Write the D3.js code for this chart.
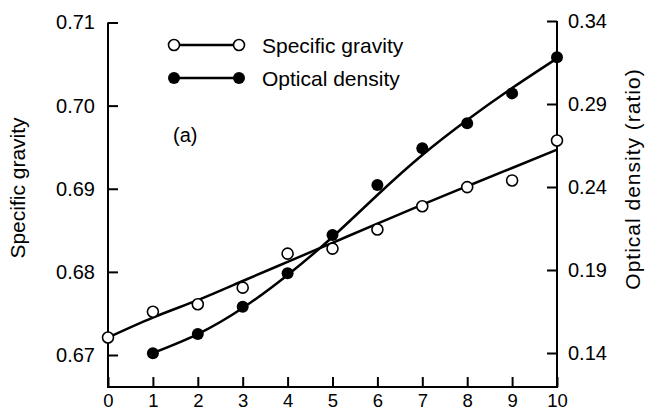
<!DOCTYPE html>
<html>
<head>
<meta charset="utf-8">
<script src="https://cdn.jsdelivr.net/npm/d3@7"></script>
<style>
  body { margin: 0; background: #fff; }
  svg { display: block; font-family: "Liberation Sans", Arial, sans-serif; }
  .axis text { font-size: 20px; fill: #000; }
  .axis line { stroke: #000; stroke-width: 2; }
</style>
</head>
<body>
<div id="chart"></div>
<script>
// days on the x axis
const days = [0, 1, 2, 3, 4, 5, 6, 7, 8, 9, 10];
// specific gravity, measured points and the fitted line
const sgObserved = [0.6721, 0.6752, 0.6761, 0.6781, 0.6822, 0.6828, 0.6851, 0.6879, 0.6902, 0.6910, 0.6958];
const sgFitted = [0.6721, 0.6745, 0.6766, 0.6789, 0.6812, 0.6835, 0.6858, 0.6881, 0.6903, 0.6925, 0.6947];
// optical density starts on day 1
const odDays = [1, 2, 3, 4, 5, 6, 7, 8, 9, 10];
const odObserved = [0.1398, 0.1514, 0.1679, 0.1880, 0.2111, 0.2412, 0.2633, 0.2784, 0.2964, 0.3181];
const odFitted = [0.1400, 0.1514, 0.1671, 0.1870, 0.2099, 0.2352, 0.2593, 0.2804, 0.2996, 0.3175];
// tick labels
const xTicks = [0, 1, 2, 3, 4, 5, 6, 7, 8, 9, 10];
const leftTicks = [0.67, 0.68, 0.69, 0.70, 0.71];
const rightTicks = [0.14, 0.19, 0.24, 0.29, 0.34];

const width = 646, height = 411;
const svg = d3.select('#chart').append('svg')
  .attr('width', width)
  .attr('height', height);

// scales
const x = d3.scaleLinear().domain([0, 10]).range([108, 557]);
const yL = d3.scaleLinear().domain([0.67, 0.71]).range([355, 22.5]);
const yR = d3.scaleLinear().domain([0.14, 0.34]).range([353, 21]);
const bottom = 387;

// frame: left, bottom, right lines
const frame = d3.line();
svg.append('path')
  .attr('d', frame([[x(0), yL(0.71)], [x(0), bottom], [x(10), bottom], [x(10), yR(0.34)]]))
  .attr('fill', 'none')
  .attr('stroke', '#000')
  .attr('stroke-width', 2);

// axes, ticks point inward
const xAxis = d3.axisBottom(x).tickValues(xTicks).tickSizeInner(-10).tickSizeOuter(0).tickPadding(7);
svg.append('g').attr('class', 'axis')
  .attr('transform', `translate(0,${bottom})`)
  .call(xAxis)
  .call(g => g.select('.domain').remove())
  .call(g => g.selectAll('text').style('font-size', '18.5px'));

const lAxis = d3.axisLeft(yL).tickValues(leftTicks).tickFormat(d3.format('.2f'))
  .tickSizeInner(-10).tickSizeOuter(0).tickPadding(13);
svg.append('g').attr('class', 'axis')
  .attr('transform', `translate(${x(0)},0)`)
  .call(lAxis)
  .call(g => g.select('.domain').remove());

const rAxis = d3.axisRight(yR).tickValues(rightTicks).tickFormat(d3.format('.2f'))
  .tickSizeInner(-10).tickSizeOuter(0).tickPadding(11);
svg.append('g').attr('class', 'axis')
  .attr('transform', `translate(${x(10)},0)`)
  .call(rAxis)
  .call(g => g.select('.domain').remove());

// axis titles
svg.append('text')
  .attr('transform', 'translate(25,188) rotate(-90)')
  .attr('text-anchor', 'middle')
  .style('font-size', '21px')
  .text('Specific gravity');

svg.append('text')
  .attr('transform', 'translate(640,179) rotate(-90)')
  .attr('text-anchor', 'middle')
  .style('font-size', '21px')
  .style('letter-spacing', '1px')
  .text('Optical density (ratio)');

// fitted curves
const sgLine = d3.line()
  .x((d, i) => x(days[i]))
  .y(d => yL(d))
  .curve(d3.curveNatural);
svg.append('path')
  .attr('d', sgLine(sgFitted))
  .attr('fill', 'none')
  .attr('stroke', '#000')
  .attr('stroke-width', 2.5);

const odLine = d3.line()
  .x((d, i) => x(odDays[i]))
  .y(d => yR(d))
  .curve(d3.curveNatural);
svg.append('path')
  .attr('d', odLine(odFitted))
  .attr('fill', 'none')
  .attr('stroke', '#000')
  .attr('stroke-width', 2.5);

// points
svg.selectAll('.sg')
  .data(sgObserved)
  .enter().append('circle')
    .attr('class', 'sg')
    .attr('cx', (d, i) => x(days[i]))
    .attr('cy', d => yL(d))
    .attr('r', 5.5)
    .attr('fill', '#fff')
    .attr('stroke', '#000')
    .attr('stroke-width', 1.6);

svg.selectAll('.od')
  .data(odObserved)
  .enter().append('circle')
    .attr('class', 'od')
    .attr('cx', (d, i) => x(odDays[i]))
    .attr('cy', d => yR(d))
    .attr('r', 6)
    .attr('fill', '#000');

// legend
const legend = [
  { label: 'Specific gravity', fill: '#fff', y: 45 },
  { label: 'Optical density', fill: '#000', y: 78 }
];
const lg = svg.append('g').selectAll('g')
  .data(legend)
  .enter().append('g')
    .attr('transform', d => `translate(0,${d.y})`);
lg.append('line')
  .attr('x1', 174).attr('x2', 239)
  .attr('stroke', '#000').attr('stroke-width', 2.5);
lg.selectAll('circle')
  .data(d => [d, d])
  .enter().append('circle')
    .attr('cx', (d, i) => i ? 239 : 174)
    .attr('r', d => d.fill === '#000' ? 6 : 5.5)
    .attr('fill', d => d.fill)
    .attr('stroke', '#000')
    .attr('stroke-width', d => d.fill === '#000' ? 0 : 1.6);
lg.append('text')
  .attr('x', 262)
  .attr('y', 7.5)
  .style('font-size', '21px')
  .text(d => d.label);

svg.append('text')
  .attr('x', 173)
  .attr('y', 142)
  .style('font-size', '20px')
  .text('(a)');
</script>
</body>
</html>
